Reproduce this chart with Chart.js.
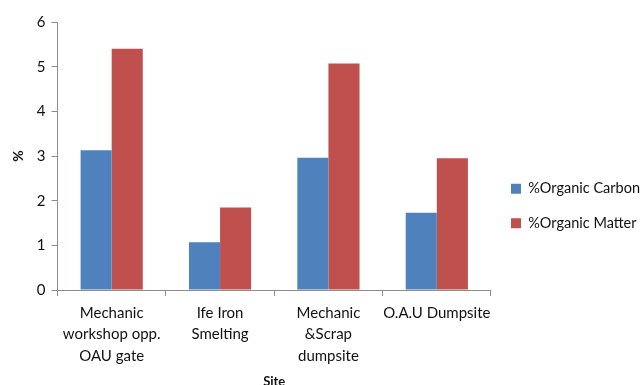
<!DOCTYPE html>
<html>
<head>
<meta charset="utf-8">
<script src="https://cdn.jsdelivr.net/npm/chart.js@4/dist/chart.umd.min.js"></script>
<style>
  html, body { margin: 0; padding: 0; background: #fff; }
  #wrap { width: 643px; height: 385px; }
</style>
</head>
<body>
<div id="wrap"><canvas id="c" width="643" height="385"></canvas></div>
<script>
// Sites (multi-line labels) and measured soil values in %
const sites = [
  ["Mechanic", "workshop opp.", "OAU gate"],
  ["Ife Iron", "Smelting"],
  ["Mechanic", "&Scrap", "dumpsite"],
  ["O.A.U Dumpsite"]
];
const organicCarbon = [3.13, 1.07, 2.96, 1.73];
const organicMatter = [5.40, 1.85, 5.07, 2.95];
const yTicks = [0, 1, 2, 3, 4, 5, 6];

const FONT = "Lato, 'Open Sans', sans-serif";

new Chart(document.getElementById('c'), {
  type: 'bar',
  data: {
    labels: sites,
    datasets: [
      { label: '%Organic Carbon', data: organicCarbon, backgroundColor: '#4F81BD' },
      { label: '%Organic Matter', data: organicMatter, backgroundColor: '#C0504D' }
    ]
  },
  options: {
    responsive: false,
    animation: false,
    // the legend box runs a little past the right edge of the canvas
    layout: { padding: { top: 22, left: 10, right: -7, bottom: -5 } },
    datasets: { bar: { categoryPercentage: 0.574, barPercentage: 1.0 } },
    plugins: {
      legend: {
        position: 'right',
        align: 'center',
        labels: {
          boxWidth: 10, boxHeight: 10, padding: 20,
          color: '#111',
          font: { family: FONT, size: 14.5 }
        }
      },
      tooltip: { enabled: false }
    },
    scales: {
      x: {
        grid: { display: true, drawOnChartArea: false, color: '#8c8c8c', tickLength: 6, offset: true },
        border: { display: true, color: '#8c8c8c', width: 1 },
        ticks: { color: '#111', font: { family: FONT, size: 15, lineHeight: 1.43 }, padding: 6, maxRotation: 0, autoSkip: false },
        title: { display: true, text: 'Site', color: '#111', font: { family: FONT, size: 13, weight: 'bold' }, padding: { top: 2, bottom: 0 } }
      },
      y: {
        min: 0, max: 6,
        afterBuildTicks: (axis) => { axis.ticks = yTicks.map(v => ({ value: v })); },
        grid: { display: true, drawOnChartArea: false, color: '#8c8c8c', tickLength: 6 },
        border: { display: true, color: '#8c8c8c', width: 1 },
        ticks: { color: '#111', font: { family: FONT, size: 15 }, padding: 6 },
        title: { display: true, text: '%', color: '#111', font: { family: FONT, size: 14, weight: 'bold' }, padding: { top: 0, bottom: 4 } }
      }
    }
  }
});
</script>
</body>
</html>
